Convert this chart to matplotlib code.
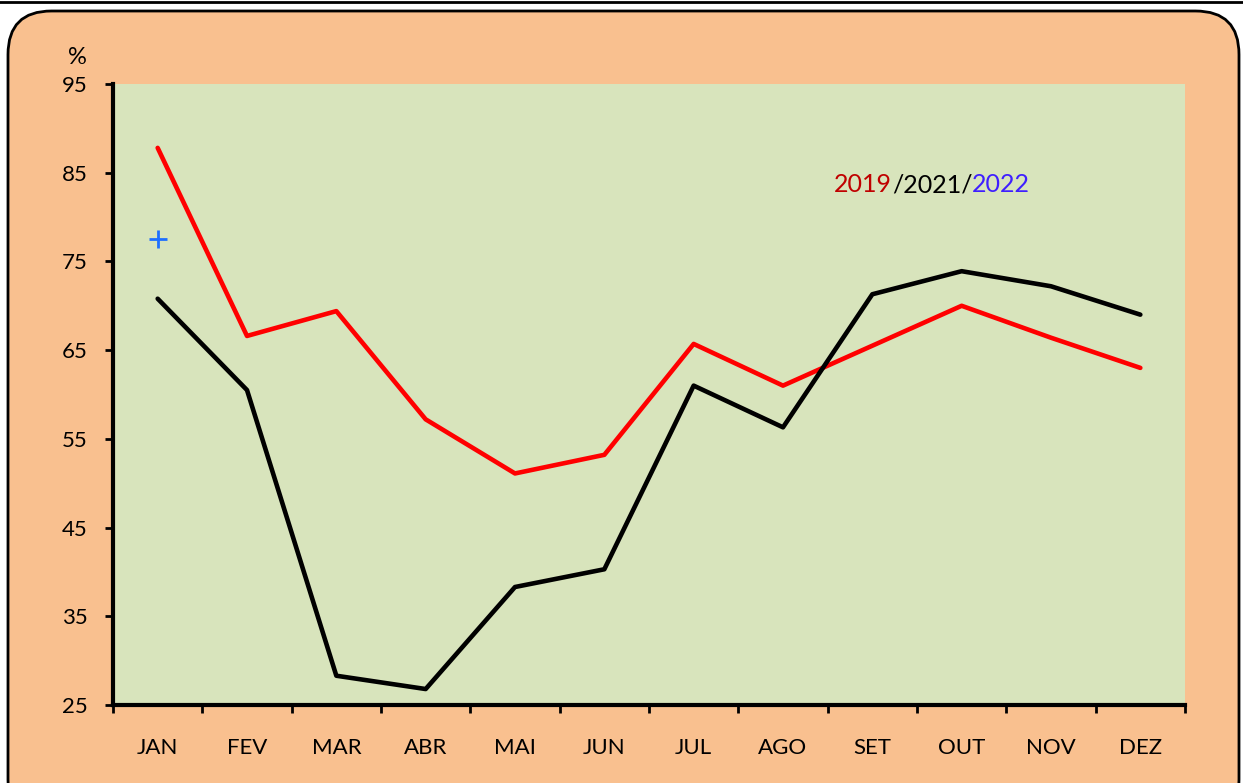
import matplotlib
matplotlib.use('Agg')
from matplotlib import pyplot as plt
from matplotlib.patches import FancyBboxPatch
from matplotlib.offsetbox import TextArea, HPacker, AnchoredOffsetbox

plt.rcParams['font.family'] = ['Lato', 'DejaVu Sans']

meses = ['JAN', 'FEV', 'MAR', 'ABR', 'MAI', 'JUN', 'JUL', 'AGO', 'SET', 'OUT', 'NOV', 'DEZ']
y2019 = [87.8, 66.6, 69.4, 57.2, 51.1, 53.2, 65.7, 61.0, 65.5, 70.0, 66.4, 63.0]
y2021 = [70.8, 60.5, 28.3, 26.8, 38.3, 40.3, 61.0, 56.3, 71.3, 73.9, 72.2, 69.0]
y2022 = [77.5]
yticks = [25, 35, 45, 55, 65, 75, 85, 95]

W, H = 1243, 783
fig = plt.figure(figsize=(W / 100, H / 100), dpi=100)
fig.patch.set_facecolor('white')

# fundo arredondado
bg = FancyBboxPatch((8 / W, -40 / H), 1231 / W, (H - 11 + 40) / H,
                    boxstyle='round,pad=0,rounding_size=0.035',
                    transform=fig.transFigure, facecolor='#F9C08F',
                    edgecolor='black', linewidth=2, mutation_aspect=W / H,
                    zorder=-5)
fig.patches.append(bg)
fig.add_artist(plt.Line2D([0, 1], [1 - 1.5 / H, 1 - 1.5 / H], color='black', lw=2,
                          transform=fig.transFigure))

ax = fig.add_axes([113 / W, 78 / H, 1072 / W, 621 / H])
ax.set_facecolor('#D8E4BC')

x = [i + 0.5 for i in range(len(meses))]
ax.plot(x, y2019, color='#FF0000', lw=3.3, solid_capstyle='round')
ax.plot(x, y2021, color='black', lw=3.3, solid_capstyle='round')
ax.plot(x[:len(y2022)], y2022, '+', color='#1E6FFF', ms=13, mew=2)

ax.set_xlim(0, 12)
ax.set_ylim(25, 95)
ax.set_yticks(yticks)
ax.set_xticks(range(13))
ax.set_xticklabels([])
ax.set_xticks(x, minor=True)
ax.set_xticklabels(meses, minor=True)
ax.tick_params(axis='x', which='minor', length=0, pad=24, labelsize=16)
ax.tick_params(axis='x', which='major', direction='out', length=6, width=2)
ax.tick_params(axis='y', direction='out', length=6, width=2, labelsize=16, pad=12)

for s in ['top', 'right']:
    ax.spines[s].set_visible(False)
for s in ['left', 'bottom']:
    ax.spines[s].set_linewidth(3)

fig.text(77 / W, 1 - 58 / H, '%', fontsize=17, ha='center', va='center')

parts = [TextArea('2019', textprops=dict(color='#C00000', fontsize=18)),
         TextArea('/2021/', textprops=dict(color='black', fontsize=18)),
         TextArea('2022', textprops=dict(color='#3F1FFF', fontsize=18))]
box = HPacker(children=parts, pad=0, sep=0)
anc = AnchoredOffsetbox(loc='center', child=box, frameon=False,
                        bbox_to_anchor=(932 / W, 1 - 185 / H),
                        bbox_transform=fig.transFigure, pad=0, borderpad=0)
ax.add_artist(anc)

plt.savefig('out.png', dpi=100, facecolor=fig.get_facecolor())
